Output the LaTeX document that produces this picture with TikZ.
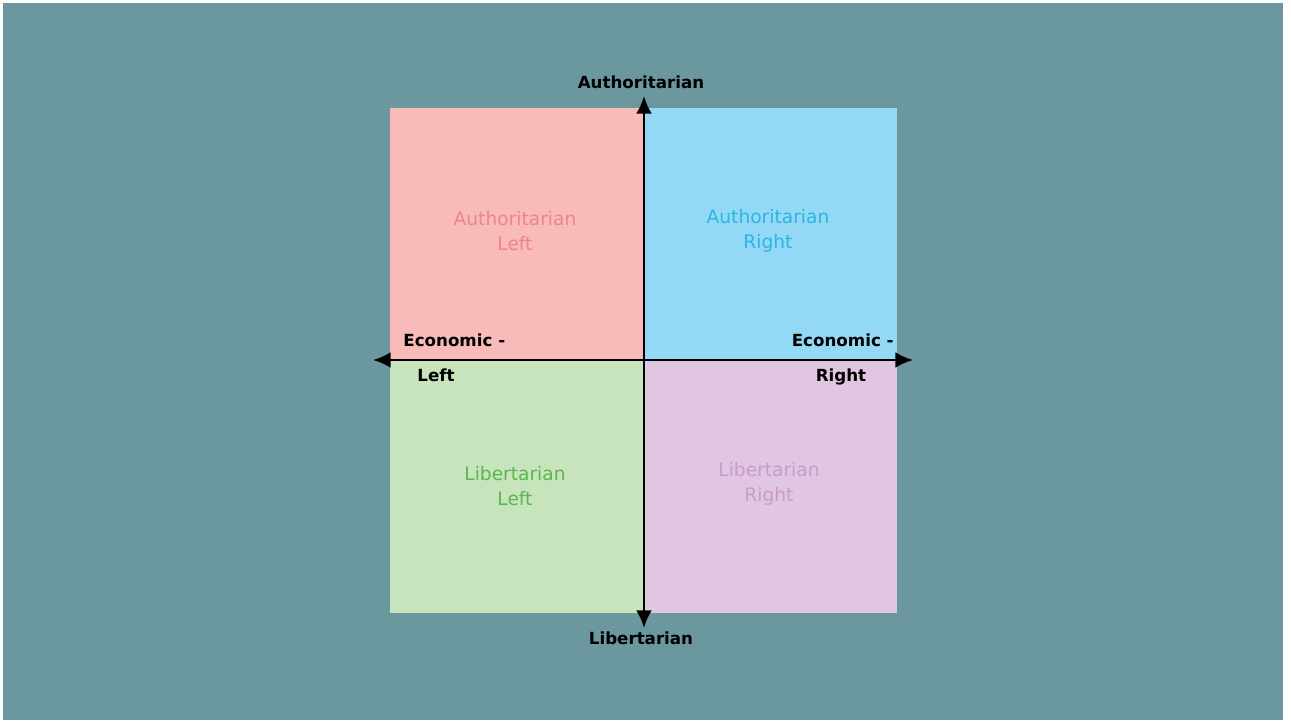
\documentclass[tikz,border=0pt]{standalone}
\usepackage{fontspec}
\setmainfont{DejaVu Sans}
\usetikzlibrary{arrows.meta}

\definecolor{bgteal}{HTML}{6B979E}
\definecolor{alfill}{HTML}{F8BBBA}
\definecolor{arfill}{HTML}{93D9F6}
\definecolor{llfill}{HTML}{C8E4BC}
\definecolor{lrfill}{HTML}{E0C6E1}
\definecolor{altext}{HTML}{EE8586}
\definecolor{artext}{HTML}{2BB5E3}
\definecolor{lltext}{HTML}{5BB74B}
\definecolor{lrtext}{HTML}{C99BCC}

\begin{document}
\begin{tikzpicture}[x=0.02cm, y=0.02cm,
    axis/.style={line width=1.4pt, -{Latex[length=10pt, width=9pt]}},
    axislabel/.style={font=\bfseries\fontsize{9.5}{11}\selectfont, text=black, inner sep=0pt},
    quadlabel/.style={font=\fontsize{10.6}{14}\selectfont, align=center, inner sep=0pt}]
    \useasboundingbox (0,0) rectangle (1291,724);
    \fill[white] (0,0) rectangle (1291,724);
    \fill[bgteal] (3,4) rectangle (1283,721);

    % quadrants
    \fill[alfill] (390,364) rectangle (644,616);
    \fill[arfill] (644,364) rectangle (897,616);
    \fill[llfill] (390,111) rectangle (644,364);
    \fill[lrfill] (644,111) rectangle (897,364);

    \node[quadlabel, text=altext] (al) at (515,493) {Authoritarian\\Left};
    \node[quadlabel, text=artext] (ar) at (768,493) {Authoritarian\\Right};
    \node[quadlabel, text=lltext] (ll) at (515,238) {Libertarian\\Left};
    \node[quadlabel, text=lrtext] (lr) at (769,240) {Libertarian\\Right};

    % axes
    \coordinate (O) at (644,364);
    \coordinate (top) at (644,628);
    \coordinate (bottom) at (644,96);
    \coordinate (west) at (373,364);
    \coordinate (east) at (913,364);
    \draw[axis] (O) -- (top);
    \draw[axis] (O) -- (bottom);
    \draw[axis] (O) -- (west);
    \draw[axis] (O) -- (east);

    \node[axislabel] (auth) at (641,642) {Authoritarian};
    \node[axislabel] (lib) at (641,86) {Libertarian};
    \node[axislabel, anchor=west] (ecl) at (403,384) {Economic -};
    \node[axislabel] (left) at (436,349) {Left};
    \node[axislabel, anchor=east] (ecr) at (894,384) {Economic -};
    \node[axislabel] (right) at (841,347) {Right};
\end{tikzpicture}
\end{document}
